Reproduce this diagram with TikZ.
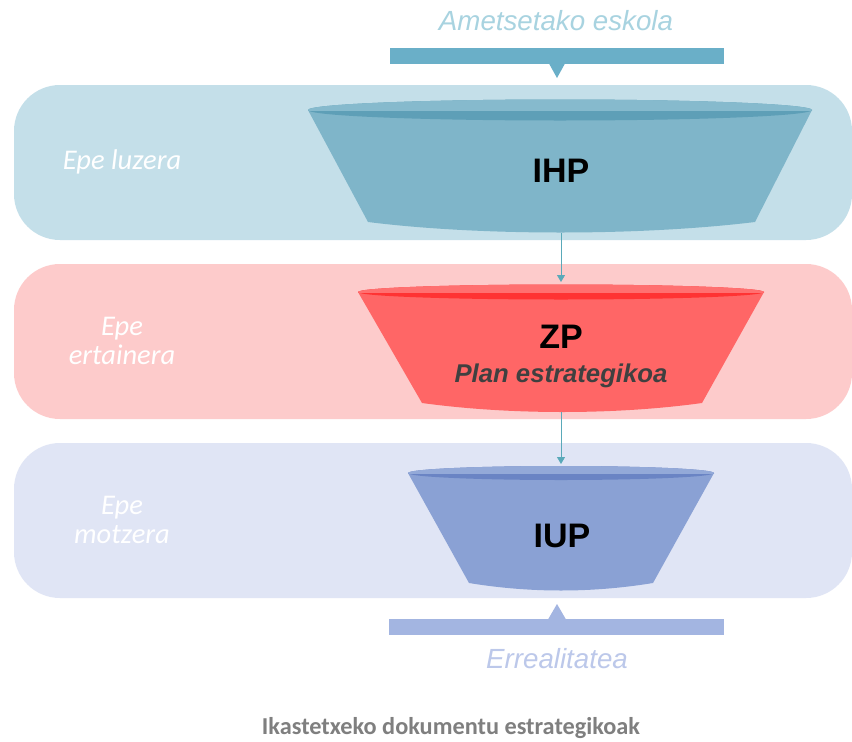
\documentclass[tikz,border=0pt]{standalone}
\usepackage{fontspec}
\setmainfont{Liberation Sans}
\newfontfamily\carlito{Carlito}
\usetikzlibrary{arrows.meta}
\definecolor{bandA}{HTML}{C4DFE9}
\definecolor{bandB}{HTML}{FDCBCB}
\definecolor{bandC}{HTML}{E0E5F5}
\definecolor{funA}{HTML}{7FB5C9}
\definecolor{rimA}{HTML}{5E9FB7}
\definecolor{topA}{HTML}{86BACD}
\definecolor{funB}{HTML}{FF6666}
\definecolor{rimB}{HTML}{FF3333}
\definecolor{topB}{HTML}{FF7070}
\definecolor{funC}{HTML}{8AA1D4}
\definecolor{rimC}{HTML}{6A84C4}
\definecolor{topC}{HTML}{93A9D8}
\definecolor{barTop}{HTML}{6AAFC8}
\definecolor{barBot}{HTML}{A3B5E1}
\definecolor{txtTop}{HTML}{A8D3E0}
\definecolor{txtBot}{HTML}{BCC8EA}
\definecolor{arrowcol}{HTML}{5AA9B9}
\definecolor{capgray}{HTML}{7F7F7F}
\tikzset{
  band/.style={rounded corners=46pt},
  sidelabel/.style={text=white, font=\carlito\itshape\fontsize{28.5}{29.5}\selectfont, align=center},
  funlabel/.style={font=\bfseries\fontsize{34}{40}\selectfont, text=black},
  sublabel/.style={font=\bfseries\itshape\fontsize{25.7}{28}\selectfont, text=black!75},
  endlabel/.style={font=\itshape\fontsize{27.7}{30}\selectfont},
  flow/.style={draw=arrowcol, line width=0.9pt, -{Triangle[length=7pt,width=8pt]}}
}
\begin{document}
\begin{tikzpicture}[x=1pt,y=-1pt]
\useasboundingbox (0,0) rectangle (852,742);
\fill[white] (0,0) rectangle (852,742);

% bands
\fill[bandA, band] (14,85) rectangle (852,240);
\fill[bandB, band] (14,264) rectangle (852,419);
\fill[bandC, band] (14,443) rectangle (852,598);

% side labels
\node[sidelabel] (lz) at (122,162) {Epe luzera};
\node[sidelabel] (er) at (122,341) {Epe\\ertainera};
\node[sidelabel] (mt) at (122,520) {Epe\\motzera};

% top bar
\node[endlabel, text=txtTop] (dream) at (556,21) {Ametsetako eskola};
\fill[barTop] (390,48) rectangle (724,64);
\fill[barTop] (549,63.5) -- (565,63.5) -- (557,78) -- cycle;

% funnel 1
\fill[funA] (308,110) -- (368,222) .. controls (480,236) and (640,236) .. (755,222) -- (812,110) -- cycle;
\fill[rimA] (560,110) ellipse [x radius=252pt, y radius=10.5pt];
\begin{scope}
\clip (300,0) rectangle (820,110);
\fill[topA] (560,110) ellipse [x radius=252pt, y radius=10.5pt];
\end{scope}
\coordinate (f1top) at (557,100);
\coordinate (f1bot) at (561,233);
\node[funlabel] (ihp) at (561,171) {IHP};

% funnel 2
\fill[funB] (358,292) -- (422,403) .. controls (510,415) and (615,415) .. (702,403) -- (764,292) -- cycle;
\fill[rimB] (561,292) ellipse [x radius=203pt, y radius=7.5pt];
\begin{scope}
\clip (300,250) rectangle (820,292);
\fill[topB] (561,292) ellipse [x radius=203pt, y radius=7.5pt];
\end{scope}
\coordinate (f2top) at (561,284.5);
\coordinate (f2bot) at (561,412);
\node[funlabel] (zp) at (561,337) {ZP};
\node[sublabel] (plan) at (561,376) {Plan estrategikoa};

% funnel 3
\fill[funC] (408,473) -- (469,583) .. controls (530,593) and (592,593) .. (653,583) -- (714,473) -- cycle;
\fill[rimC] (561,473) ellipse [x radius=153pt, y radius=7pt];
\begin{scope}
\clip (300,440) rectangle (820,473);
\fill[topC] (561,473) ellipse [x radius=153pt, y radius=7pt];
\end{scope}
\coordinate (f3top) at (561,466);
\coordinate (f3bot) at (561,590);
\node[funlabel] (iup) at (562,536) {IUP};

% arrows
\coordinate (a1end) at (561,282);
\coordinate (a2end) at (561,464);
\draw[flow] (f1bot) -- (a1end);
\draw[flow] (f2bot) -- (a2end);

% bottom bar
\fill[barBot] (389,619) rectangle (724,635);
\fill[barBot] (548,619.5) -- (566,619.5) -- (557,604) -- cycle;
\node[endlabel, text=txtBot] (real) at (557,659) {Errealitatea};

% caption
\node[font=\carlito\bfseries\fontsize{24.3}{28}\selectfont, text=capgray] (cap) at (451,728) {Ikastetxeko dokumentu estrategikoak};
\end{tikzpicture}
\end{document}
